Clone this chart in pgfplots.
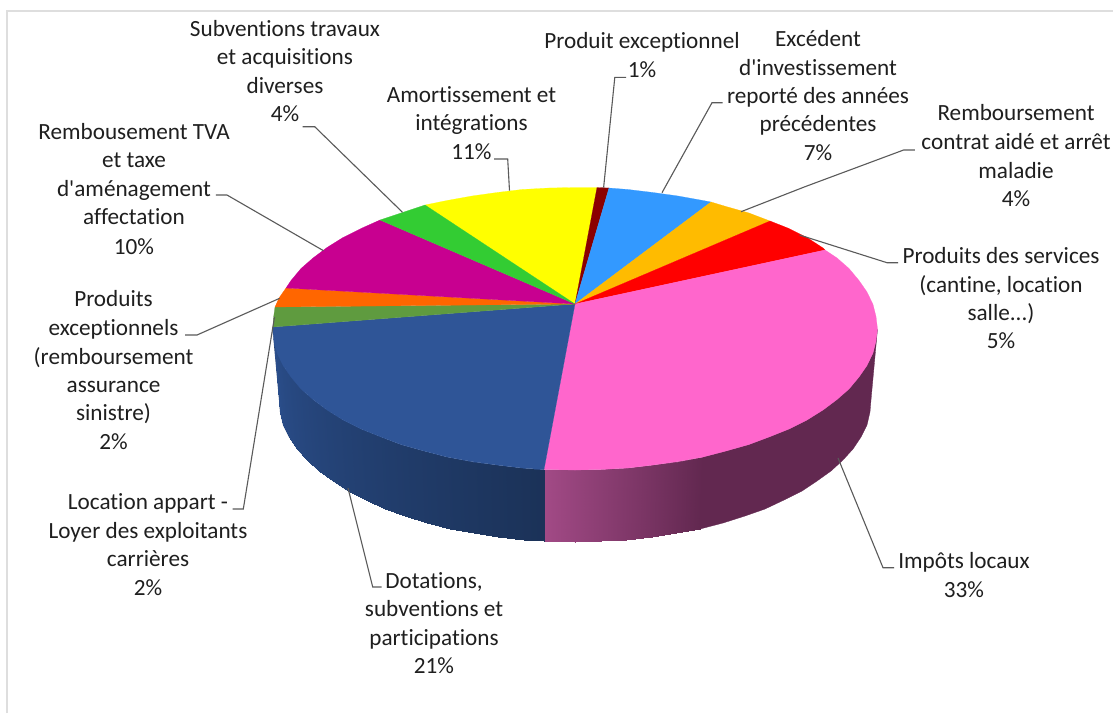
\documentclass[border=0pt]{standalone}
\usepackage{fontspec}
\usepackage{pgfplots}
\pgfplotsset{compat=1.18}
\newfontfamily\lf[Ligatures=NoCommon]{Carlito}
\definecolor{txt}{HTML}{1F1F1F}
\definecolor{lead}{HTML}{5A5A5A}
\definecolor{frame}{HTML}{DEDEDE}
\definecolor{pkA}{HTML}{A24A86}
\definecolor{pkB}{HTML}{622850}
\definecolor{dkA}{HTML}{1B3258}
\definecolor{dkB}{HTML}{2B4F8D}
\definecolor{cyellow}{HTML}{FFFF00}
\definecolor{cdkred}{HTML}{8B0000}
\definecolor{cblue}{HTML}{3399FF}
\definecolor{corange}{HTML}{FFBB00}
\definecolor{cred}{HTML}{FF0000}
\definecolor{cpink}{HTML}{FF66CC}
\definecolor{cnavy}{HTML}{2F5597}
\definecolor{colive}{HTML}{5F9B3F}
\definecolor{corg}{HTML}{FF6600}
\definecolor{cmag}{HTML}{C80090}
\definecolor{cgreen}{HTML}{33CC33}
\newcommand\strip[2]{\addplot[fill=#1,draw=#1,line width=0.3pt,mark=none,forget plot] coordinates {#2} --cycle;}
\newcommand\slice[2]{\addplot[fill=#1,draw=#1,line width=0.2pt,mark=none,forget plot] coordinates {(575,304) #2} --cycle;}
\newcommand\leader[1]{\addplot[lead,line width=1.1pt,mark=none,forget plot] coordinates {#1};}
\newcommand\lab[3]{\node[anchor=base,inner sep=0pt,text=txt,font=\lf\fontsize{23.2}{28}\selectfont] at (axis cs:#1,#2) {#3};}
\begin{document}
\begin{tikzpicture}
\begin{axis}[
  scale only axis, width=1113pt, height=713pt,
  xmin=0, xmax=1113, ymin=0, ymax=713, y dir=reverse,
  hide axis, clip=false,
  colormap={sides}{color(0)=(pkB) color(1000)=(pkA) color(1001)=(dkA) color(2000)=(dkB)},
  point meta min=0, point meta max=2000]
\path[use as bounding box,fill=white] (axis cs:0,0) rectangle (axis cs:1113,713);
% frame
\addplot[frame,line width=2pt,mark=none,forget plot] coordinates {(6.5,713) (6.5,10.5) (1113,10.5)};
% side: pink, flat part and backing
\strip{pkB}{(877.5,329)(876,341)(873,353)(867,365.5)(859,377)(849,389)(837,399.5)(823,410)(807,420)(789,429)(769,437)(749,444.5)(726,451)(703,457)
(700,529)(723,523)(745,516)(765,509)(784,500)(802,491)(817,481)(831,471)(843,460)(853,449)(861,437)(867,425)(870,412)(871,400)}
\addplot[fill=pkA!50!pkB,draw=none,mark=none,forget plot] coordinates {(703,457)(678,461.5)(653,465)(628,468)(601,469.5)(575,470)(544,469.5)(544,541)(575,542)(601,541)(626,540)(652,537)(676,533)(700,529)} --cycle;
\addplot[fill=dkB!50!dkA,draw=none,mark=none,forget plot] coordinates {(544,469.5)(522,468)(497,465)(472,461.5)(447,457)(424,451)(401,444.5)(381,437)(361,429)(343,420)(327,410)(313,399.5)(301,389)(291,377)(283,365.5)(277,353)(274,341)(272.5,329)(279,400)(280,412)(283,425)(289,437)(297,449)(307,460)(319,471)(333,481)(348,491)(366,500)(385,509)(405,516)(427,523)(450,529)(474,533)(498,537)(524,540)(544,541)} --cycle;
% side: shaded panels
\addplot[patch,patch type=rectangle,shader=interp,point meta=explicit,forget plot] table[meta=c] {
x y c
703 457 0
678 461.5 161
676 533 161
700 529 0
678 461.5 161
653 465 323
652 537 323
676 533 161
653 465 323
628 468 484
626 540 484
652 537 323
628 468 484
601 469.5 645
601 541 645
626 540 484
601 469.5 645
575 470 806
575 542 806
601 541 645
575 470 806
544 469.5 1000
544 541 1000
575 542 806
};
\addplot[patch,patch type=rectangle,shader=interp,point meta=explicit,forget plot] table[meta=c] {
x y c
544 469.5 1001
522 468 1048
524 540 1048
544 541 1001
522 468 1048
497 465 1107
498 537 1107
524 540 1048
497 465 1107
472 461.5 1167
474 533 1167
498 537 1107
472 461.5 1167
447 457 1226
450 529 1226
474 533 1167
447 457 1226
424 451 1286
427 523 1286
450 529 1226
424 451 1286
401 444.5 1345
405 516 1345
427 523 1286
401 444.5 1345
381 437 1405
385 509 1405
405 516 1345
381 437 1405
361 429 1464
366 500 1464
385 509 1405
361 429 1464
343 420 1524
348 491 1524
366 500 1464
343 420 1524
327 410 1583
333 481 1583
348 491 1524
327 410 1583
313 399.5 1643
319 471 1643
333 481 1583
313 399.5 1643
301 389 1702
307 460 1702
319 471 1643
301 389 1702
291 377 1762
297 449 1762
307 460 1702
291 377 1762
283 365.5 1821
289 437 1821
297 449 1762
283 365.5 1821
277 353 1881
283 425 1881
289 437 1821
277 353 1881
274 341 1940
280 412 1940
283 425 1881
274 341 1940
272.5 329 2000
279 400 2000
280 412 1940
};
% top surface
\slice{cyellow}{(425,205)(447,200.5)(472,196)(497,192.5)(522,189.5)(549,188)(575,187.5)(597,187.5)}
\slice{cdkred}{(597,187.5)(609,188)}
\slice{cblue}{(609,188)(628,189.5)(653,192.5)(678,196)(703,200.5)(711,202)}
\slice{corange}{(711,202)(726,206.5)(749,213)(770,221)}
\slice{cred}{(770,221)(789,228.5)(807,237.5)(823,248)(825,250)}
\slice{cpink}{(825,250)(837,258)(849,268.5)(859,280.5)(867,292)(873,304.5)(876,316.5)(877.5,329)(876,341)(873,353)(867,365.5)(859,377)(849,389)(837,399.5)(823,410)(807,420)(789,429)(769,437)(749,444.5)(726,451)(703,457)(678,461.5)(653,465)(628,468)(601,469.5)(575,470)(544,469.5)}
\slice{cnavy}{(544,469.5)(522,468)(497,465)(472,461.5)(447,457)(424,451)(401,444.5)(381,437)(361,429)(343,420)(327,410)(313,399.5)(301,389)(291,377)(283,365.5)(277,353)(274,341)(272.5,329)(273,327)}
\slice{colive}{(273,327)(273.5,318)(275,307)}
\slice{corg}{(275,307)(279,298)(286,288)}
\slice{cmag}{(286,288)(291,280.5)(301,268.5)(313,258)(327,247.5)(343,237.5)(361,228.5)(380,220)}
\slice{cgreen}{(380,220)(401,213)(425,205)}
% leaders
\leader{(603.6,187.7)(614.8,77.3)(626,77.3)}
\leader{(662,192.7)(712,102.7)(722.6,102.7)}
\leader{(741,211.7)(805,186.7)(903.6,150)(914.8,150)}
\leader{(799.5,235)(887,262.7)(898,262.7)}
\leader{(838,458)(883,567.7)(894,567.7)}
\leader{(348,488)(372.7,587)(381.7,587)}
\leader{(274.5,317)(243.3,509)(232.7,509)}
\leader{(279.6,298.3)(197,335)(185,335)}
\leader{(323.5,250.7)(227,195)(215.8,195)}
\leader{(402.5,212.3)(314.7,126.7)(302.5,126.7)}
\leader{(509.5,190.7)(507.7,159)(494,159)}
% labels
\lab{642}{48}{Produit exceptionnel}
\lab{642}{77}{1\%}
\lab{818}{46}{Excédent}
\lab{818}{75}{d'investissement}
\lab{818}{103}{reporté des années}
\lab{818}{131}{précédentes}
\lab{818}{160}{7\%}
\lab{1016}{120.5}{Remboursement}
\lab{1016}{149}{contrat aidé et arrêt}
\lab{1016}{178}{maladie}
\lab{1016}{206}{4\%}
\lab{1001}{263}{Produits des services}
\lab{1001}{292}{(cantine, location}
\lab{1001}{320}{salle...)}
\lab{1001}{348}{5\%}
\lab{964}{568}{Impôts locaux}
\lab{964}{597}{33\%}
\lab{434}{588}{Dotations,}
\lab{434}{616}{subventions et}
\lab{434}{645}{participations}
\lab{434}{673}{21\%}
\lab{148}{509}{Location appart -}
\lab{148}{538}{Loyer des exploitants}
\lab{148}{566.5}{carrières}
\lab{148}{595}{2\%}
\lab{113.5}{306.5}{Produits}
\lab{113.5}{335}{exceptionnels}
\lab{113.5}{364}{(remboursement}
\lab{113.5}{392}{assurance}
\lab{113.5}{420}{sinistre)}
\lab{113.5}{449}{2\%}
\lab{134}{139}{Rembousement TVA}
\lab{134}{167}{et taxe}
\lab{134}{196}{d'aménagement}
\lab{134}{224}{affectation}
\lab{134}{254}{10\%}
\lab{285}{36}{Subventions travaux}
\lab{285}{64}{et acquisitions}
\lab{285}{93}{diverses}
\lab{285}{121}{4\%}
\lab{471.5}{102}{Amortissement et}
\lab{471.5}{130}{intégrations}
\lab{471.5}{159}{11\%}
\end{axis}
\end{tikzpicture}
\end{document}
